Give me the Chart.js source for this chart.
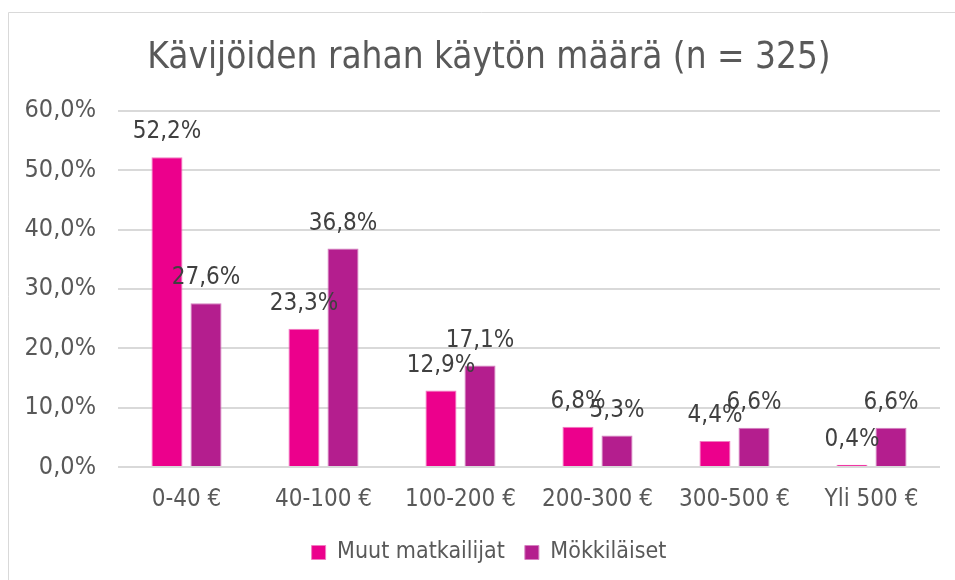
<!DOCTYPE html>
<html><head><meta charset="utf-8">
<script src="https://cdn.jsdelivr.net/npm/chart.js@4/dist/chart.umd.min.js"></script>
<style>html,body{margin:0;padding:0;background:#fff}#wrap{width:955px;height:580px;position:relative}</style>
</head><body><div id="wrap"><canvas id="c" width="955" height="580"></canvas></div>
<script>
const categories = ["0-40 €", "40-100 €", "100-200 €", "200-300 €", "300-500 €", "Yli 500 €"];
const muutMatkailijat = [52.2, 23.3, 12.9, 6.8, 4.4, 0.4];
const mokkilaiset = [27.6, 36.8, 17.1, 5.3, 6.6, 6.6];
const seriesNames = ["Muut matkailijat", "Mökkiläiset"];
const titleText = "Kävijöiden rahan käytön määrä (n = 325)";

const FONT = "'DejaVu Sans Condensed', 'DejaVu Sans', sans-serif";
const fmt = v => v.toFixed(1).replace('.', ',') + '%';

const labelPlugin = {
  id: 'barLabels',
  afterDatasetsDraw(chart) {
    const ctx = chart.ctx;
    ctx.save();
    ctx.font = "24px " + FONT;
    ctx.fillStyle = '#404040';
    ctx.textAlign = 'center';
    ctx.textBaseline = 'middle';
    chart.data.datasets.forEach((ds, i) => {
      chart.getDatasetMeta(i).data.forEach((bar, j) => {
        ctx.fillText(fmt(ds.data[j]), bar.x, bar.y - 25);
      });
    });
    ctx.restore();
  }
};
const borderPlugin = {
  id: 'frame',
  afterLayout(chart) {
    // center title and legend on the framed chart box (which starts at x=8)
    [chart.titleBlock, chart.legend].forEach(b => {
      if (b) { b.left = 38; b.width = b.right - b.left; }
    });
  },
  afterDraw(chart) {
    const ctx = chart.ctx;
    ctx.save();
    ctx.strokeStyle = '#d9d9d9';
    ctx.lineWidth = 1;
    ctx.beginPath();
    ctx.moveTo(8.5, 580); ctx.lineTo(8.5, 12.5); ctx.lineTo(955, 12.5);
    ctx.stroke();
    ctx.restore();
  }
};

new Chart(document.getElementById('c'), {
  type: 'bar',
  data: {
    labels: categories,
    datasets: [
      { label: seriesNames[0], data: muutMatkailijat, backgroundColor: '#EC008C', borderColor: '#f07cc0', borderWidth: 1, categoryPercentage: 0.57, barPercentage: 0.795 },
      { label: seriesNames[1], data: mokkilaiset, backgroundColor: '#B41E8E', borderColor: '#d480c0', borderWidth: 1, categoryPercentage: 0.57, barPercentage: 0.795 }
    ]
  },
  options: {
    responsive: false,
    animation: false,
    devicePixelRatio: 1,
    layout: { padding: { left: 0, right: 15, top: 37, bottom: 6 } },
    plugins: {
      title: { display: true, text: titleText, color: '#595959', font: { family: FONT, size: 36.6, weight: 'normal' }, padding: { top: 0, bottom: 30 } },
      legend: { position: 'bottom', labels: { color: '#595959', font: { family: FONT, size: 23 }, boxWidth: 14, boxHeight: 14, padding: 20 } },
      tooltip: { enabled: false }
    },
    scales: {
      x: {
        grid: { display: false },
        border: { display: false },
        ticks: { color: '#595959', font: { family: FONT, size: 24 }, padding: 10 },
        afterFit(s) { s.height = 54; }
      },
      y: {
        min: 0, max: 60,
        ticks: { stepSize: 10, color: '#595959', font: { family: FONT, size: 25 }, padding: 22, callback: v => fmt(v) },
        grid: { color: '#d9d9d9', lineWidth: 2, drawTicks: false },
        border: { display: false },
        afterFit(s) { s.width = 118; }
      }
    }
  },
  plugins: [labelPlugin, borderPlugin]
});
</script></body></html>
